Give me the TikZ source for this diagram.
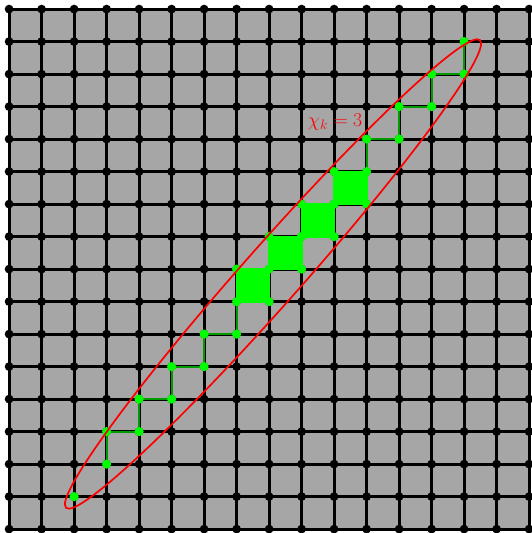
\documentclass[tikz,border=0pt]{standalone}
\begin{document}
\begin{tikzpicture}[
  site/.style={fill=black},
  hotsite/.style={fill=green},
  bond/.style={green!60!black,line width=1.7pt},
  plaq/.style={fill=green,draw=green,line width=1.7pt}]
\useasboundingbox (-0.28,-0.12) rectangle (16.06,16.28);
\fill[gray!70] (0,0) rectangle (16,16);
\draw[line width=2.6pt] (0,0) grid (16,16);
\foreach \x in {0,...,16}
  \foreach \y in {0,...,16}
    \fill[site] (\x,\y) circle (0.135);
% filled plaquettes
\foreach \k in {7,...,10}
  \draw[plaq] (\k,\k) rectangle ++(1,1);
% green strings
\draw[bond] (3,2)--(3,3)--(4,3)--(4,4)--(5,4)--(5,5)--(6,5)--(6,6)--(7,6)--(7,7);
\draw[bond] (11,11)--(11,12)--(12,12)--(12,13)--(13,13)--(13,14)--(14,14)--(14,15);
\foreach \p in {(2,1),(3,2),(3,3),(4,3),(4,4),(5,4),(5,5),(6,5),(6,6),(7,6),
  (11,12),(12,12),(12,13),(13,13),(13,14),(14,14),(14,15)}
  \fill[hotsite] \p circle (0.14);
\foreach \k in {7,...,10}
  \fill[hotsite] (\k,\k) circle (0.14) (\k+1,\k) circle (0.14)
    (\k,\k+1) circle (0.14) (\k+1,\k+1) circle (0.14);
\draw[red,line width=1.5pt,rotate around={48.5:(8.12,7.85)}] (8.12,7.85) ellipse (9.61 and 0.9);
\node[red] (chi) at (10.03,12.52) {\LARGE$\chi_k=3$};
\end{tikzpicture}
\end{document}
